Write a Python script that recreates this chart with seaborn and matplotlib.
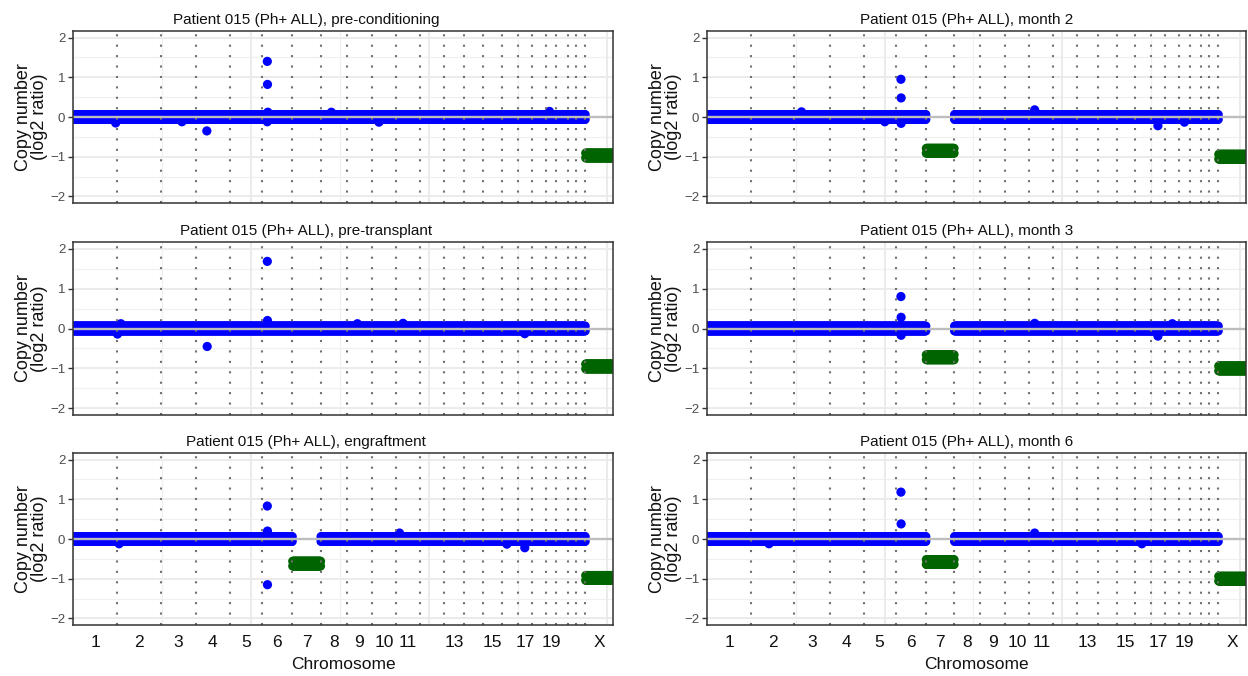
import numpy as np
import pandas as pd
import matplotlib
matplotlib.use('Agg')
import matplotlib.pyplot as plt
import seaborn as sns

# genome layout (hg19, Mb)
chrom_names = ['1', '2', '3', '4', '5', '6', '7', '8', '9', '10', '11', '12',
               '13', '14', '15', '16', '17', '18', '19', '20', '21', '22', 'X']
chrom_len_mb = [249.25, 243.20, 198.02, 191.15, 180.92, 171.12, 159.14, 146.36,
                141.21, 135.53, 135.01, 133.85, 115.17, 107.35, 102.53, 90.35,
                81.20, 78.08, 59.13, 63.03, 48.13, 51.30, 155.27]
shown_labels = ['1', '2', '3', '4', '5', '6', '7', '8', '9', '10', '11',
                '13', '15', '17', '19', 'X']

bin_mb = 4.0
bin_spread = [-0.06, 0.06]   # scatter of bins around the segment level

# segment losses per sample (chromosome -> log2 ratio), all else ~0
loss_pre_cond = {'X': -0.97}
loss_pre_tx = {'X': -0.95}
loss_engraft = {'7': -0.62, 'X': -0.98}
loss_month2 = {'7': -0.85, 'X': -1.00}
loss_month3 = {'7': -0.72, 'X': -1.00}
loss_month6 = {'7': -0.58, 'X': -1.00}

# single bins off the band: (chromosome, position in chromosome Mb, log2 ratio)
extra_pre_cond = [('6', 30, 1.40), ('6', 31, 0.82), ('6', 30, -0.12), ('6', 33, 0.12),
                  ('4', 62, -0.35), ('1', 240, -0.15), ('10', 40, -0.13), ('19', 20, 0.14),
                  ('8', 60, 0.12), ('3', 120, -0.12)]
extra_pre_tx = [('6', 30, 1.68), ('6', 31, 0.20), ('4', 64, -0.45), ('1', 250, -0.14),
                ('11', 40, 0.13), ('17', 40, -0.13), ('2', 20, 0.12), ('9', 60, 0.12)]
extra_engraft = [('6', 30, 0.83), ('6', 31, 0.20), ('6', 31, -1.15), ('17', 40, -0.22),
                 ('11', 20, 0.15), ('2', 10, -0.12), ('16', 30, -0.13)]
extra_month2 = [('6', 30, 0.95), ('6', 31, 0.48), ('6', 31, -0.16), ('17', 40, -0.22),
                ('11', 30, 0.18), ('19', 30, -0.13), ('5', 120, -0.12), ('3', 40, 0.13)]
extra_month3 = [('6', 30, 0.80), ('6', 31, 0.28), ('6', 31, -0.17), ('17', 40, -0.19),
                ('11', 30, 0.13), ('18', 40, 0.12)]
extra_month6 = [('6', 30, 1.18), ('6', 31, 0.38), ('11', 30, 0.15), ('2', 100, -0.12),
                ('16', 40, -0.12)]

panel_titles = ['Patient 015 (Ph+ ALL), pre-conditioning',
                'Patient 015 (Ph+ ALL), pre-transplant',
                'Patient 015 (Ph+ ALL), engraftment',
                'Patient 015 (Ph+ ALL), month 2',
                'Patient 015 (Ph+ ALL), month 3',
                'Patient 015 (Ph+ ALL), month 6']
panel_losses = [loss_pre_cond, loss_pre_tx, loss_engraft, loss_month2, loss_month3, loss_month6]
panel_extras = [extra_pre_cond, extra_pre_tx, extra_engraft, extra_month2, extra_month3, extra_month6]

offsets = np.concatenate([[0], np.cumsum(chrom_len_mb)[:-1]])
genome_end = float(np.sum(chrom_len_mb))
mids = offsets + np.array(chrom_len_mb) / 2


def panel_frame(losses, extras):
    rows = []
    for name, start, length in zip(chrom_names, offsets, chrom_len_mb):
        level = losses.get(name, 0.0)
        state = 'loss' if name in losses else 'normal'
        for p in np.arange(bin_mb / 2, length, bin_mb):
            for d in bin_spread:
                rows.append((start + p, level + d, state))
    for name, p, v in extras:
        i = chrom_names.index(name)
        rows.append((offsets[i] + p, v, 'normal'))
    return pd.DataFrame(rows, columns=['pos', 'log2', 'state'])


sns.set_theme(style='white')
plt.rcParams['font.family'] = ['Liberation Sans', 'DejaVu Sans']

W, H = 1248, 676
fig = plt.figure(figsize=(W / 100, H / 100), dpi=100)

col_x = [(73, 613), (707, 1246)]
row_y = [(31, 203), (242, 415), (453, 625)]
title_cx = [306, 967]

for k in range(6):
    c, r = k // 3, k % 3
    x0, x1 = col_x[c]
    y0, y1 = row_y[r]
    ax = fig.add_axes([x0 / W, 1 - y1 / H, (x1 - x0) / W, (y1 - y0) / H])

    # background grid
    for v in [-2, -1, 0, 1, 2]:
        ax.axhline(v, color='#ebebeb', lw=1.4, zorder=0)
    for v in [-1.5, -0.5, 0.5, 1.5]:
        ax.axhline(v, color='#f0f0f0', lw=0.9, zorder=0)
    for v in [1000, 2000, 3000]:
        ax.axvline(v, color='#ebebeb', lw=1.4, zorder=0)
    for v in [500, 1500, 2500]:
        ax.axvline(v, color='#f0f0f0', lw=0.9, zorder=0)

    df = panel_frame(panel_losses[k], panel_extras[k])
    sns.scatterplot(data=df, x='pos', y='log2', hue='state',
                    palette={'normal': '#0000ff', 'loss': '#006400'},
                    s=44, linewidth=0, edgecolor='none', legend=False, ax=ax, zorder=2)

    for b in offsets[1:]:
        ax.axvline(b, color='#707070', lw=1.5, linestyle=(0, (1, 4.0)), zorder=3)
    ax.axhline(0, color='#bdbdbd', lw=1.7, zorder=4)

    ax.set_xlim(0, genome_end)
    ax.set_ylim(-2.165, 2.165)
    ax.set_yticks([-2, -1, 0, 1, 2])
    ax.set_yticklabels(['\u22122', '\u22121', '0', '1', '2'])
    ax.tick_params(axis='y', left=True, length=3.5, width=1.0, color='#333333',
                   labelsize=9.5, labelcolor='#4d4d4d', pad=2)

    tick_pos = [mids[chrom_names.index(n)] for n in shown_labels]
    ax.set_xticks(tick_pos)
    if r == 2:
        ax.set_xticklabels(shown_labels)
        ax.tick_params(axis='x', length=0, labelsize=12.5, labelcolor='#111111', pad=7)
        ax.set_xlabel('Chromosome', fontsize=12.5, labelpad=5, color='#111111')
    else:
        ax.set_xticklabels([])
        ax.tick_params(axis='x', length=0)
        ax.set_xlabel('')

    ax.set_ylabel('Copy number\n(log2 ratio)', fontsize=13, linespacing=0.92, color='#111111')
    ax.yaxis.set_label_coords(-0.047, 0.5)

    ax.set_title(panel_titles[k], fontsize=11, color='#111111',
                 x=(title_cx[c] - x0) / (x1 - x0), pad=5)

    for sp in ax.spines.values():
        sp.set_color('#333333')
        sp.set_linewidth(1.1)
        sp.set_zorder(5)

fig.savefig('out.png', dpi=100, facecolor='white')
